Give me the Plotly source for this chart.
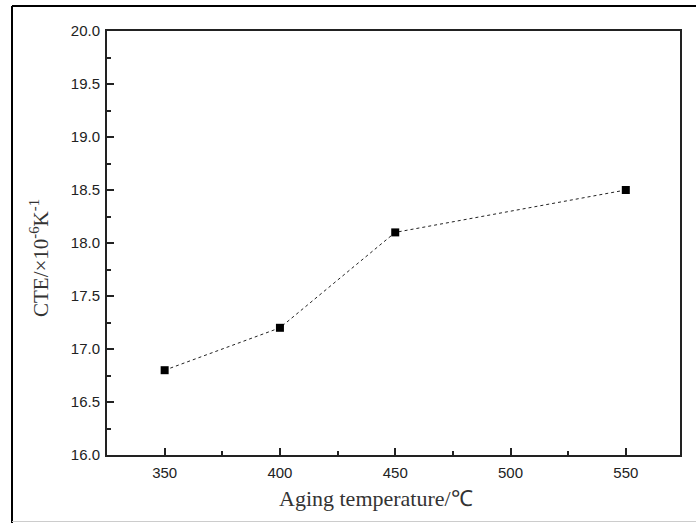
import plotly.graph_objects as go

temps = [350, 400, 450, 550]
cte = [16.8, 17.2, 18.1, 18.5]
x_ticks = [350, 400, 450, 500, 550]
y_ticks = [16.0, 16.5, 17.0, 17.5, 18.0, 18.5, 19.0, 19.5, 20.0]

L, R, T, B = 107, 16, 31, 68
W, H = 696, 523
pw, ph = W - L - R, H - T - B

def px(x):
    return (x - L) / pw

def py(y):
    return (H - B - y) / ph

fig = go.Figure()
fig.add_trace(go.Scatter(
    x=temps, y=cte, mode="lines+markers",
    line=dict(color="#222", width=1, dash="dot"),
    marker=dict(symbol="square", size=8, color="black"),
    showlegend=False,
))

axis_common = dict(
    showline=True, linecolor="#222", linewidth=2, mirror=True,
    ticks="inside", ticklen=7, tickwidth=1.5, tickcolor="#222",
    showgrid=False, zeroline=False,
    tickfont=dict(family="Liberation Sans, Arial", size=15, color="#222"),
    minor=dict(ticks="inside", ticklen=4, tickwidth=1.5, tickcolor="#222", showgrid=False),
)

fig.update_xaxes(range=[325, 573.5], tickvals=x_ticks, ticktext=[str(v) for v in x_ticks],
                 minor_dtick=25, minor_tick0=325, ticklabelstandoff=3, **axis_common)
fig.update_yaxes(range=[16, 20], tickvals=y_ticks, ticktext=[f"{v:.1f}" for v in y_ticks],
                 minor_dtick=0.25, minor_tick0=16, ticklabelstandoff=2, **axis_common)

fig.add_annotation(text="Aging temperature/℃", xref="paper", yref="paper",
                   x=px(376), y=py(498), xanchor="center", yanchor="middle", showarrow=False,
                   font=dict(family="Liberation Serif, Times New Roman", size=22, color="#333"))
fig.add_annotation(text="CTE/×10<sup>-6</sup>K<sup>-1</sup>", xref="paper", yref="paper",
                   x=px(39), y=py(258), xanchor="center", yanchor="middle", showarrow=False, textangle=-90,
                   font=dict(family="Liberation Serif, Times New Roman", size=21, color="#333"))

# outer frame
fig.add_shape(type="line", xref="paper", yref="paper", x0=px(12), x1=px(12), y0=py(6), y1=py(523),
              line=dict(color="black", width=2))
fig.add_shape(type="line", xref="paper", yref="paper", x0=px(12), x1=px(696), y0=py(6), y1=py(6),
              line=dict(color="black", width=2))
fig.add_shape(type="line", xref="paper", yref="paper", x0=px(12), x1=px(696), y0=py(521.5), y1=py(521.5),
              line=dict(color="#ccc", width=1))

fig.update_layout(
    width=W, height=H,
    margin=dict(l=L, r=R, t=T, b=B),
    plot_bgcolor="white", paper_bgcolor="white",
)

fig.write_html("out.html")
